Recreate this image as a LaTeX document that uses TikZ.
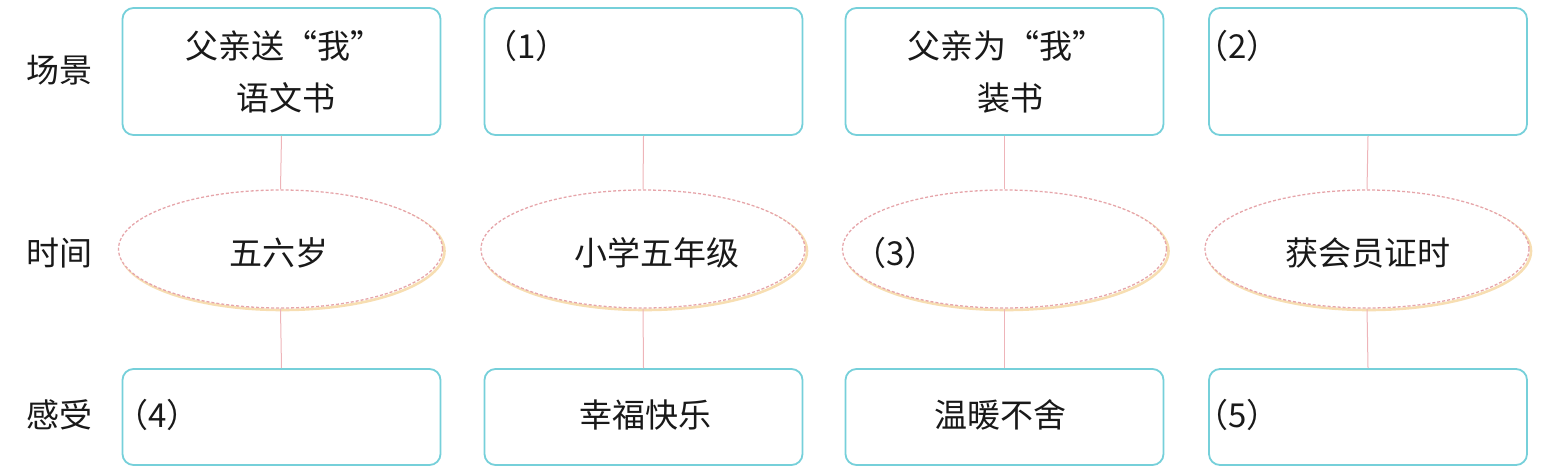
\documentclass[tikz,border=0pt]{standalone}
\usepackage{fontspec}
\setmainfont{Noto Sans CJK SC}
\usetikzlibrary{shapes.geometric}
\definecolor{boxc}{RGB}{118,208,218}
\definecolor{ellc}{RGB}{230,165,170}
\definecolor{shc}{RGB}{247,222,178}
\definecolor{conc}{RGB}{238,180,185}
\tikzset{
  box/.style={draw=boxc, line width=1.8pt, rounded corners=11pt, minimum width=318pt, inner sep=0pt, fill=white},
  topbox/.style={box, minimum height=127pt},
  botbox/.style={box, minimum height=96pt},
  ell/.style={ellipse, draw=ellc, dash pattern=on 3pt off 2pt, line width=1.3pt, minimum width=324pt, minimum height=118pt, inner sep=0pt, fill=white},
  ellsh/.style={ellipse, draw=shc, line width=2.6pt, minimum width=324pt, minimum height=118pt, inner sep=0pt},
  conn/.style={draw=conc, line width=1pt},
  txt/.style={inner sep=0pt, font=\fontsize{33}{38}\selectfont, text=black!90},
}
\begin{document}
\begin{tikzpicture}[x=1pt,y=-1pt]
\useasboundingbox (0,0) rectangle (1544,474);
% left labels
\node[txt] (l1) at (60,70) {场景};
\node[txt] (l2) at (60,253) {时间};
\node[txt] (l3) at (60,415) {感受};
% top boxes
\node[topbox] (s1) at (281.5,71.5) {};
\node[topbox] (s2) at (643.5,71.5) {};
\node[topbox] (s3) at (1004.5,71.5) {};
\node[topbox] (s4) at (1368,71.5) {};
% ellipses with shadow
\node[ellsh] (h1) at (282.5,251) {};
\node[ellsh] (h2) at (645,251) {};
\node[ellsh] (h3) at (1006.5,251) {};
\node[ellsh] (h4) at (1369,251) {};
\node[ell] (t1) at (280.5,249) {};
\node[ell] (t2) at (643,249) {};
\node[ell] (t3) at (1004.5,249) {};
\node[ell] (t4) at (1367,249) {};
% bottom boxes
\node[botbox] (f1) at (281.5,417) {};
\node[botbox] (f2) at (643.5,417) {};
\node[botbox] (f3) at (1004.5,417) {};
\node[botbox] (f4) at (1368,417) {};
% connectors
\foreach \i in {1,2,3,4}{
  \draw[conn] (s\i.south) -- (t\i.north);
  \draw[conn] (t\i.south) -- (f\i.north);
}
% texts
\node[txt, anchor=west] (a1) at (185,46) {父亲送“我”};
\node[txt, anchor=west] (a2) at (236,98) {语文书};
\node[txt, anchor=west] (a3) at (484,46) {（1）};
\node[txt, anchor=west] (a4) at (907,46) {父亲为“我”};
\node[txt, anchor=west] (a5) at (977,98) {装书};
\node[txt, anchor=west] (a6) at (1195,46) {（2）};
\node[txt] (b1) at (279,253) {五六岁};
\node[txt] (b2) at (657,253) {小学五年级};
\node[txt, anchor=west] (b3) at (853,253) {（3）};
\node[txt] (b4) at (1368,253) {获会员证时};
\node[txt, anchor=west] (c1) at (115,415) {（4）};
\node[txt] (c2) at (645,415) {幸福快乐};
\node[txt] (c3) at (1000,415) {温暖不舍};
\node[txt, anchor=west] (c4) at (1195,415) {（5）};
\end{tikzpicture}
\end{document}
